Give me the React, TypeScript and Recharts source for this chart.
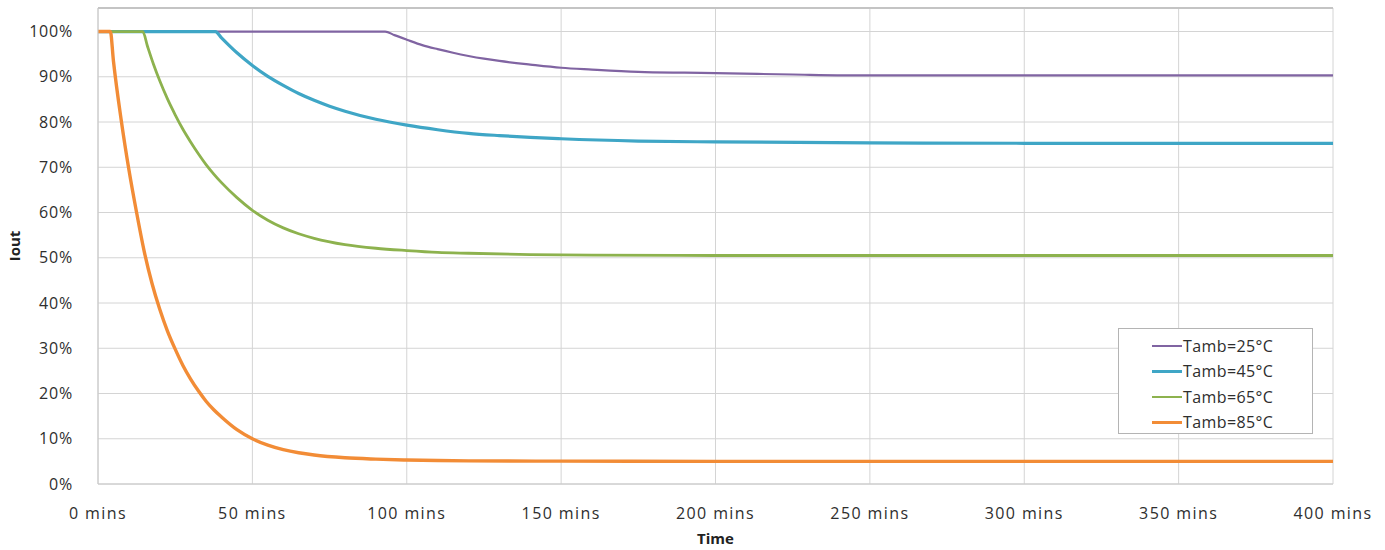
import { LineChart, Line, XAxis, YAxis, CartesianGrid, Legend, ReferenceLine, Label } from 'recharts';

// time in minutes, Iout in %
const t25 = [0, 93, 96, 100, 105, 110, 115, 120, 125, 130, 140, 150, 160, 175, 190, 200, 225, 250, 300, 350, 400];
const v25 = [100, 100, 99.2, 98.2, 97, 96.1, 95.3, 94.6, 94, 93.5, 92.7, 92, 91.6, 91.1, 90.9, 90.8, 90.5, 90.3, 90.3, 90.3, 90.3];

const t45 = [0, 38, 40, 45, 50, 55, 60, 65, 70, 75, 80, 90, 100, 110, 120, 130, 140, 150, 175, 200, 250, 300, 350, 400];
const v45 = [100, 100, 98.6, 95.3, 92.5, 90.1, 88.1, 86.3, 84.8, 83.5, 82.4, 80.6, 79.3, 78.3, 77.5, 77, 76.6, 76.3, 75.8, 75.6, 75.4, 75.3, 75.3, 75.3];

const t65 = [0, 14.5, 16, 18, 20, 22.5, 25, 27.5, 30, 32.5, 35, 37.5, 40, 45, 50, 55, 60, 65, 70, 80, 90, 100, 110, 120, 140, 160, 200, 250, 300, 350, 400];
const v65 = [100, 100, 96.8, 92.7, 89.1, 85.1, 81.6, 78.4, 75.6, 73, 70.6, 68.5, 66.6, 63.3, 60.5, 58.3, 56.6, 55.3, 54.3, 52.9, 52.1, 51.6, 51.2, 51, 50.7, 50.6, 50.5, 50.5, 50.5, 50.5, 50.5];

const t85 = [0, 4, 5, 7.5, 10, 12.5, 15, 17.5, 20, 22.5, 25, 27.5, 30, 32.5, 35, 37.5, 40, 45, 50, 55, 60, 65, 70, 80, 90, 100, 120, 150, 200, 250, 300, 350, 400];
const v85 = [100, 100, 93.5, 80.5, 69.5, 60, 51.3, 44.3, 38.6, 33.8, 29.8, 26.2, 23.2, 20.6, 18.3, 16.4, 14.8, 12, 10, 8.6, 7.6, 6.9, 6.4, 5.8, 5.5, 5.3, 5.1, 5.05, 5, 5, 5, 5, 5];

const seriesNames = ['Tamb=25°C', 'Tamb=45°C', 'Tamb=65°C', 'Tamb=85°C'];
const seriesColors = ['#8064A2', '#3FA6C6', '#8DB24E', '#F28C36'];
const seriesWidths = [2.2, 3.2, 2.8, 3.4];

const xTicks = [0, 50, 100, 150, 200, 250, 300, 350, 400];
const xMinorTicks = [10, 20, 30, 40, 60, 70, 80, 90, 110, 120, 130, 140, 160, 170, 180, 190, 210, 220, 230, 240, 260, 270, 280, 290, 310, 320, 330, 340, 360, 370, 380, 390];
const yTicks = [0, 10, 20, 30, 40, 50, 60, 70, 80, 90, 100];
const yMinorTicks = [5, 15, 25, 35, 45, 55, 65, 75, 85, 95];
const yMax = 105.2;

const toPoints = (ts: number[], vs: number[]) => ts.map((t, i) => ({ t, v: vs[i] }));
const series = [toPoints(t25, v25), toPoints(t45, v45), toPoints(t65, v65), toPoints(t85, v85)];

const font = '"Open Sans", sans-serif';
const gridColor = '#d4d4d4';
const textColor = '#2e2e2e';

const renderLegend = () => (
  <div style={{ border: '1px solid #b4b4b4', background: '#fff', padding: '4px 0 0 33px', boxSizing: 'border-box', width: '100%', height: '100%' }}>
    {seriesNames.map((n, i) => (
      <div key={n} style={{ display: 'flex', alignItems: 'center', height: 25.5, fontFamily: font, fontSize: 16, letterSpacing: 0.4, color: textColor }}>
        <span style={{ display: 'inline-block', width: 30, height: seriesWidths[i] > 3 ? 3 : 2, background: seriesColors[i], marginRight: 1 }} />
        <span>{n}</span>
      </div>
    ))}
  </div>
);

export default function App() {
  return (
    <div style={{ position: 'absolute', left: 0, top: 0, background: '#fff' }}>
      <LineChart width={1385} height={550} margin={{ top: 8, right: 52, bottom: 3, left: 0 }}>
        <CartesianGrid xAxisId="main" yAxisId="main" stroke={gridColor} strokeWidth={1} verticalValues={xTicks} horizontalValues={yTicks} />
        <XAxis xAxisId="minor" dataKey="t" type="number" domain={[0, 400]} ticks={xMinorTicks} tick={false} tickSize={4} stroke="#c8c8c8" axisLine={false} height={1} allowDataOverflow />
        <XAxis
          xAxisId="main"
          dataKey="t"
          type="number"
          domain={[0, 400]}
          ticks={xTicks}
          interval={0}
          tickFormatter={(v: number) => `${v} mins`}
          tickLine={false}
          tickMargin={18}
          axisLine={{ stroke: '#c8c8c8' }}
          tick={{ fontFamily: font, fontSize: 16, fill: textColor, letterSpacing: 1.4 }}
          height={62}
        >
          <Label value="Time" position="insideBottom" offset={2} style={{ fontFamily: font, fontSize: 15, fontWeight: 700, fill: '#222' }} />
        </XAxis>
        <YAxis yAxisId="minor" type="number" domain={[0, yMax]} ticks={yMinorTicks} tick={false} tickSize={4} stroke="#c8c8c8" axisLine={false} width={1} allowDataOverflow />
        <YAxis
          yAxisId="main"
          type="number"
          domain={[0, yMax]}
          ticks={yTicks}
          interval={0}
          tickFormatter={(v: number) => `${v}%`}
          tickLine={false}
          tickMargin={19}
          axisLine={{ stroke: '#c8c8c8' }}
          tick={{ fontFamily: font, fontSize: 16, fill: textColor, letterSpacing: 0.8 }}
          width={97}
          allowDataOverflow
        >
          <Label value="Iout" angle={-90} position="insideLeft" offset={14} style={{ fontFamily: font, fontSize: 15, fontWeight: 700, fill: '#222', textAnchor: 'middle' }} />
        </YAxis>
        <ReferenceLine xAxisId="main" yAxisId="main" y={yMax} stroke="#c4c4c4" strokeWidth={2} />
        {series.map((d, i) => (
          <Line
            key={seriesNames[i]}
            xAxisId="main"
            yAxisId="main"
            data={d}
            dataKey="v"
            name={seriesNames[i]}
            type="monotone"
            stroke={seriesColors[i]}
            strokeWidth={seriesWidths[i]}
            dot={false}
            activeDot={false}
            isAnimationActive={false}
          />
        ))}
        <Legend
          layout="vertical"
          align="center"
          verticalAlign="middle"
          content={renderLegend}
          wrapperStyle={{ left: 1118, top: 328, width: 195, height: 106 }}
        />
      </LineChart>
    </div>
  );
}
